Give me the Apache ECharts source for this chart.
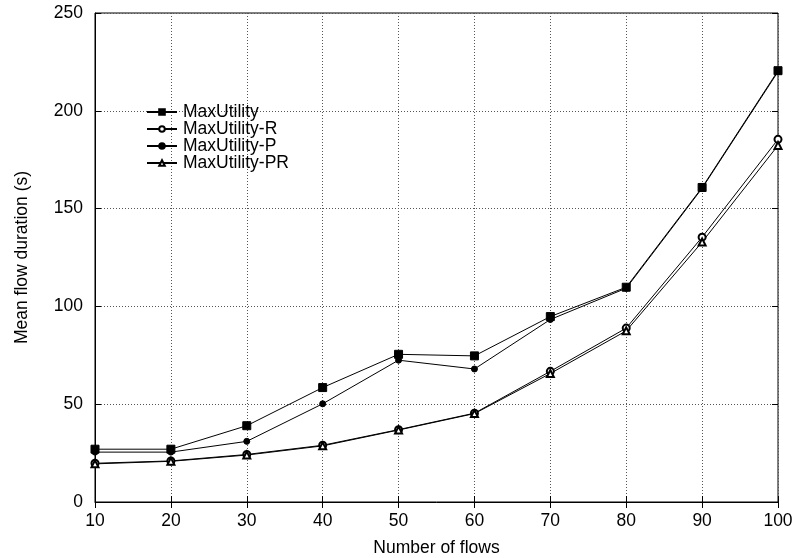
<!DOCTYPE html>
<html>
<head>
<meta charset="utf-8">
<script src="https://cdn.jsdelivr.net/npm/echarts@6/dist/echarts.min.js"></script>
<style>
  html, body { margin: 0; padding: 0; background: #fff; }
  #chart { width: 796px; height: 558px; }
</style>
</head>
<body>
<div id="chart"></div>
<script>
// Number of concurrent flows
const flows = [10, 20, 30, 40, 50, 60, 70, 80, 90, 100];

// Mean flow duration (s) for each scheduling variant
const maxUtility   = [27, 27, 39, 58.5, 75.5, 74.7, 94.8, 109.8, 160.8, 220.5];
const maxUtilityR  = [19.8, 21, 24.3, 29, 37, 45.4, 66.8, 88.9, 135.4, 185.4];
const maxUtilityP  = [25.5, 25.5, 31, 50.2, 72.5, 68, 93.3, 109.3, 160.4, 220];
const maxUtilityPR = [19.5, 20.8, 24, 28.7, 36.8, 45.2, 65.7, 87.5, 132.9, 182.3];

const yTicks = [0, 50, 100, 150, 200, 250];

const FONT = 'Liberation Sans, Arial, Helvetica, sans-serif';
const FS = 17.5;

function pairs(ys) {
  return flows.map((x, i) => [x, ys[i]]);
}

function lineSeries(name, ys, symbol, size) {
  return {
    name: name,
    type: 'line',
    data: pairs(ys),
    symbol: symbol,
    symbolSize: size,
    showSymbol: true,
    lineStyle: { color: '#000', width: 1 },
    itemStyle: { color: '#000', borderColor: '#000', borderWidth: 1 },
    emphasis: { disabled: true },
    animation: false,
    z: 3
  };
}

const chart = echarts.init(document.getElementById('chart'), null, { renderer: 'canvas' });

const tickStyle = { show: true, inside: true, length: 6, lineStyle: { color: '#000', width: 1 } };

chart.setOption({
  backgroundColor: '#fff',
  animation: false,
  textStyle: { fontFamily: FONT, color: '#000' },
  grid: {
    left: 95, right: 18, top: 13, bottom: 56,
    outerBoundsMode: 'none', containLabel: false,
    show: true, borderColor: '#000', borderWidth: 1, backgroundColor: 'transparent'
  },
  legend: {
    orient: 'vertical',
    left: 141, top: 98,
    itemWidth: 30, itemHeight: 7, itemGap: -1,
    textStyle: { fontFamily: FONT, fontSize: FS, color: '#000', padding: [0, 0, 0, 1], lineHeight: 17 },
    data: ['MaxUtility', 'MaxUtility-R', 'MaxUtility-P', 'MaxUtility-PR']
  },
  xAxis: [{
    type: 'value', min: flows[0], max: flows[flows.length - 1], interval: 10,
    name: 'Number of flows', nameLocation: 'middle', nameGap: 37,
    nameTextStyle: { fontFamily: FONT, fontSize: FS, color: '#000' },
    axisLine: { show: true, lineStyle: { color: '#000', width: 1 } },
    axisTick: tickStyle,
    axisLabel: { fontFamily: FONT, fontSize: FS, color: '#000', margin: 10 },
    splitLine: { show: true, lineStyle: { color: '#555', width: 1, type: [1, 2] } }
  }, {
    type: 'value', position: 'top', min: flows[0], max: flows[flows.length - 1], interval: 10,
    axisLine: { show: false }, axisTick: tickStyle,
    axisLabel: { show: false }, splitLine: { show: false }
  }],
  yAxis: [{
    type: 'value', min: yTicks[0], max: yTicks[yTicks.length - 1], interval: 50,
    name: 'Mean flow duration (s)', nameLocation: 'middle', nameGap: 64,
    nameTextStyle: { fontFamily: FONT, fontSize: FS, color: '#000' },
    axisLine: { show: true, lineStyle: { color: '#000', width: 1 } },
    axisTick: tickStyle,
    axisLabel: { fontFamily: FONT, fontSize: FS, color: '#000', margin: 12 },
    splitLine: { show: true, lineStyle: { color: '#555', width: 1, type: [1, 2] } }
  }, {
    type: 'value', position: 'right', min: yTicks[0], max: yTicks[yTicks.length - 1], interval: 50,
    axisLine: { show: false }, axisTick: tickStyle,
    axisLabel: { show: false }, splitLine: { show: false }
  }],
  series: [
    lineSeries('MaxUtility', maxUtility, 'rect', 8),
    lineSeries('MaxUtility-R', maxUtilityR, 'emptyCircle', 7),
    lineSeries('MaxUtility-P', maxUtilityP, 'circle', 6),
    lineSeries('MaxUtility-PR', maxUtilityPR, 'emptyTriangle', 7)
  ]
});
</script>
</body>
</html>
